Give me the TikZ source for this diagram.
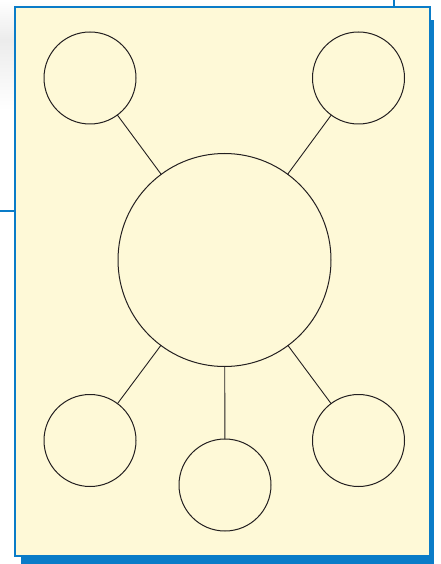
\documentclass[tikz,border=0pt]{standalone}
\definecolor{pagecream}{HTML}{FEF9D7}
\definecolor{frameblue}{HTML}{0A7CC8}
\definecolor{inkgray}{HTML}{231F20}
\tikzset{
    bubble/.style={circle, draw=inkgray, line width=1pt, inner sep=0pt, outer sep=0pt, minimum size=92pt},
    spoke/.style={draw=inkgray, line width=0.9pt}
}
\begin{document}
\begin{tikzpicture}[x=1pt,y=-1pt]
\useasboundingbox (0,0) rectangle (441,564);
% faded backdrop and frame
\shade[top color=white, bottom color=gray!15] (0,0) rectangle (300,40);
\shade[top color=gray!15, middle color=gray!25, bottom color=white] (0,40) rectangle (300,110);
\fill[frameblue] (21,20) rectangle (434,564);
\draw[frameblue, line width=2pt, fill=pagecream] (15,7) rectangle (430,556);
\draw[frameblue, line width=2pt] (0,211)--(14,211);
\draw[frameblue, line width=1.5pt] (394,0)--(394,6);
% hub and bubbles
\node[bubble, minimum size=213pt] (hub) at (224.5,260) {};
\node[bubble] (tl) at (90,78) {};
\node[bubble] (tr) at (358.5,78) {};
\node[bubble] (bl) at (90,440.5) {};
\node[bubble] (bm) at (225,485) {};
\node[bubble] (br) at (358.5,440.5) {};
\foreach \n in {tl,tr,bl,bm,br}{
    \draw[spoke] (hub)--(\n);
}
\end{tikzpicture}
\end{document}
